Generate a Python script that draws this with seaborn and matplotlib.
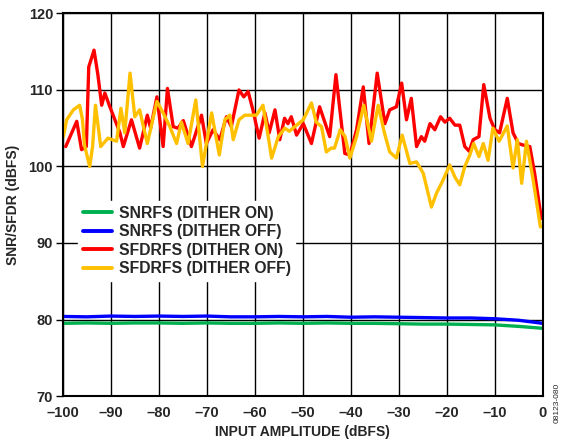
import matplotlib
matplotlib.use('Agg')
import seaborn as sns
import matplotlib.pyplot as plt
from matplotlib.ticker import FuncFormatter
import pandas as pd

sns.set_style("whitegrid")
plt.rcParams['font.family'] = ['Liberation Sans', 'DejaVu Sans']
plt.rcParams['font.weight'] = 'bold'

# SNRFS traces (flat ~80 dB)
snr_x = [-100, -95, -90, -85, -80, -75, -70, -65, -60, -55, -50,
         -45, -40, -35, -30, -25, -20, -15, -10, -5, 0]
snr_on = [79.5, 79.55, 79.5, 79.55, 79.55, 79.5, 79.55, 79.5, 79.5, 79.55, 79.5,
          79.55, 79.5, 79.5, 79.45, 79.4, 79.4, 79.35, 79.3, 79.1, 78.85]
snr_off = [80.4, 80.35, 80.45, 80.4, 80.45, 80.4, 80.45, 80.35, 80.35, 80.4, 80.35,
           80.4, 80.3, 80.35, 80.3, 80.25, 80.2, 80.2, 80.1, 79.9, 79.5]

# SFDRFS, dither on (red)
sfdr_on_x = [-99.4, -97.1, -96.1, -95.1, -94.6, -93.5, -92.7, -91.9, -91.25, -90.2,
             -88.1, -87.4, -85.7, -84.0, -82.4, -81.7, -80.4, -79.1, -78.2, -77.0,
             -76.0, -74.9, -73.2, -71.1, -70.1, -68.7, -67.3, -65.9, -64.9, -63.3,
             -62.3, -61.4, -60.4, -59.1, -57.9, -57.0, -55.8, -54.8, -53.8, -53.1,
             -52.4, -51.3, -49.9, -48.2, -46.5, -44.4, -43.1, -41.25, -40.2, -38.8,
             -37.4, -36.2, -34.5, -32.9, -31.9, -30.5, -29.4, -28.4, -27.4, -26.3,
             -25.3, -24.6, -23.5, -22.5, -21.3, -20.4, -19.4, -18.3, -17.3, -16.25,
             -15.35, -14.5, -13.3, -12.3, -11.0, -10.0, -9.0, -7.4, -6.2, -5.1,
             -4.1, -2.7, -1.7, -0.3]
sfdr_on = [102.6, 105.9, 102.2, 102.6, 113.0, 115.2, 112.0, 108.0, 109.6, 107.8,
           104.4, 102.6, 106.1, 102.4, 106.7, 105.0, 109.1, 102.6, 110.2, 105.2,
           105.0, 106.0, 102.6, 106.7, 103.0, 104.8, 103.5, 106.5, 105.2, 110.0,
           109.1, 109.8, 107.4, 103.7, 107.0, 104.4, 107.4, 103.5, 106.3, 105.6,
           106.5, 104.1, 105.6, 103.0, 107.8, 103.9, 112.0, 101.7, 101.5, 104.8,
           110.4, 103.0, 112.2, 105.6, 107.4, 107.8, 110.9, 106.1, 108.9, 102.6,
           103.9, 103.3, 105.6, 104.8, 106.5, 105.8, 106.3, 105.4, 105.4, 102.6,
           102.0, 103.5, 103.9, 110.7, 106.3, 104.8, 104.4, 108.9, 104.4, 103.0,
           102.8, 102.6, 99.1, 93.2]

# SFDRFS, dither off (yellow)
sfdr_off_x = [-99.9, -99.2, -97.8, -96.5, -95.9, -95.5, -94.4, -93.8, -93.2, -92.1,
              -90.6, -88.8, -87.9, -87.1, -86.0, -85.0, -84.0, -82.4, -80.4, -79.1,
              -77.7, -76.3, -75.3, -73.9, -72.3, -70.9, -69.0, -67.4, -66.25, -65.2,
              -64.5, -63.3, -62.1, -59.7, -58.3, -57.2, -56.5, -55.1, -53.75, -52.8,
              -51.3, -49.9, -48.2, -47.2, -46.1, -45.1, -44.1, -43.4, -42.2, -41.2,
              -40.2, -38.8, -37.3, -35.7, -34.3, -33.0, -31.9, -30.5, -29.3, -27.7,
              -26.3, -24.9, -23.2, -22.15, -20.8, -19.4, -18.3, -17.3, -16.25, -15.2,
              -14.4, -13.3, -12.4, -11.4, -10.4, -9.1, -7.4, -6.2, -5.3, -4.4,
              -3.4, -2.0, -0.5]
sfdr_off = [103.9, 106.1, 107.4, 108.0, 106.1, 102.8, 100.0, 102.6, 108.0, 102.6,
            103.7, 103.3, 107.6, 104.4, 112.2, 106.5, 107.4, 103.0, 108.5, 107.0,
            105.2, 103.0, 105.8, 103.0, 108.7, 100.0, 107.0, 101.5, 106.1, 106.7,
            103.5, 106.1, 106.7, 106.7, 108.0, 103.9, 101.1, 103.9, 105.0, 104.6,
            105.4, 106.1, 108.3, 105.8, 105.2, 101.9, 102.4, 102.4, 104.8, 103.9,
            101.1, 103.9, 108.0, 103.3, 108.0, 104.4, 101.9, 101.1, 104.1, 100.4,
            100.6, 99.1, 94.7, 96.5, 98.2, 100.2, 98.6, 97.6, 100.0, 101.5,
            103.0, 101.3, 103.0, 100.8, 105.0, 103.3, 105.3, 99.8, 103.5, 97.8,
            103.3, 98.2, 92.1]

labels = ["SNRFS (DITHER ON)", "SNRFS (DITHER OFF)",
          "SFDRFS (DITHER ON)", "SFDRFS (DITHER OFF)"]
colors = ["#00B050", "#0000FF", "#FF0000", "#FFC000"]

data = pd.concat([
    pd.DataFrame({"x": snr_x, "y": snr_on, "series": labels[0]}),
    pd.DataFrame({"x": snr_x, "y": snr_off, "series": labels[1]}),
    pd.DataFrame({"x": sfdr_on_x, "y": sfdr_on, "series": labels[2]}),
    pd.DataFrame({"x": sfdr_off_x, "y": sfdr_off, "series": labels[3]}),
])

fig = plt.figure(figsize=(5.66, 4.48), dpi=100)
ax = fig.add_axes([0.111, 0.116, 0.848, 0.854])

sns.lineplot(data=data, x="x", y="y", hue="series", hue_order=labels,
             palette=dict(zip(labels, colors)), estimator=None, sort=False,
             linewidth=2.4, solid_joinstyle="round", solid_capstyle="round", ax=ax)

ax.set_xlim(-100, 0)
ax.set_ylim(70, 120)
ax.set_xticks(range(-100, 1, 10))
ax.set_yticks(range(70, 121, 10))
ax.xaxis.set_major_formatter(FuncFormatter(lambda v, p: f"{int(v)}".replace("-", "\u2013")))
ax.grid(True, color="black", linewidth=1.0)
for s in ax.spines.values():
    s.set_color("black")
    s.set_linewidth(1.5)
ax.tick_params(axis="y", left=True, length=5, width=1, color="black",
               labelsize=10.5, pad=2)
ax.tick_params(axis="x", bottom=False, labelsize=10.5, pad=4)
for t in ax.get_xticklabels() + ax.get_yticklabels():
    t.set_fontweight("bold")

ax.set_xlabel("INPUT AMPLITUDE (dBFS)", fontsize=10, fontweight="bold", labelpad=3)
ax.set_ylabel("SNR/SFDR (dBFS)", fontsize=10, fontweight="bold", labelpad=6)

leg = ax.legend(loc="upper left", bbox_to_anchor=(0.015, 0.53), frameon=True,
                fancybox=False, edgecolor="white", framealpha=1,
                prop={"weight": "bold", "size": 11.3}, handlelength=1.9,
                labelspacing=0.22, borderpad=0.3, handletextpad=0.4)
for line in leg.get_lines():
    line.set_linewidth(2.8)

fig.text(0.985, 0.1, "08123-080", rotation=90, fontsize=6, ha="center", va="center",
         fontweight="normal")

plt.savefig("out.png", dpi=100)
